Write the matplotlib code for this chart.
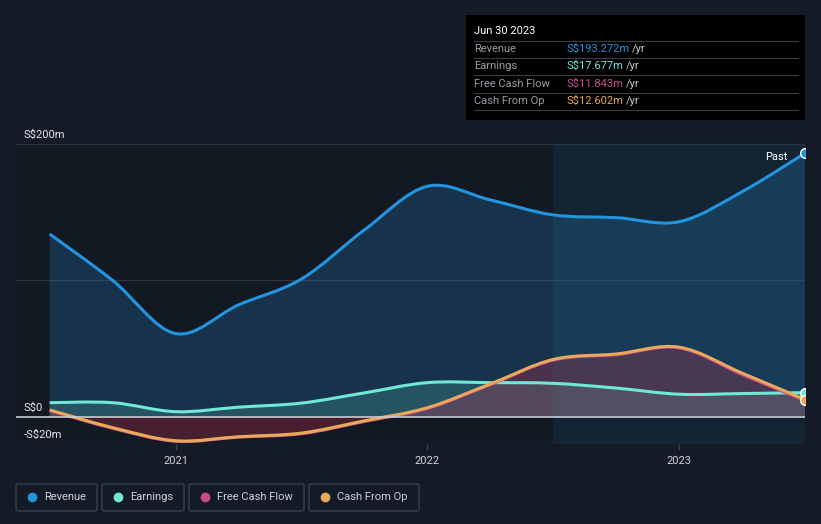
import numpy as np
import matplotlib
matplotlib.use("Agg")
import matplotlib.pyplot as plt
from matplotlib.path import Path
from matplotlib.patches import PathPatch, FancyBboxPatch, Rectangle

plt.rcParams['font.family'] = ['Roboto', 'DejaVu Sans']

# quarterly points, decimal years (Jun 2020 .. Jun 2023), S$m
years = [2020.5, 2020.75, 2021.0, 2021.25, 2021.5, 2021.75, 2022.0,
         2022.25, 2022.5, 2022.75, 2023.0, 2023.25, 2023.5]
revenue = [134, 100, 61, 82, 101, 137, 169, 159, 148, 146, 143, 165, 193.272]
earnings = [10.3, 10.3, 3.7, 7, 10, 17.5, 25, 25, 24.5, 21, 16.5, 17, 17.677]
cash_from_op = [5, -8, -17.6, -14.7, -12, -3, 6.6, 24, 42, 46, 51, 32, 12.602]
free_cash_flow = [4.5, -8.5, -18, -15, -12.5, -3.5, 6, 23.5, 41.5, 45.5, 50.5, 31, 11.843]

y_ticks = [-20, 0, 200]
y_tick_labels = ['-S$20m', 'S$0', 'S$200m']
x_ticks = [2021, 2022, 2023]
past_start = 2022.5

BG = '#151b26'
C_REV = '#2394df'
C_EARN = '#6fe8d6'
C_FCF = '#c94b8c'
C_CFO = '#e8a95a'


def smooth_path(xs, ys, base=None):
    """Catmull-Rom through the points as cubic bezier; optionally closed to a baseline."""
    pts = list(zip(xs, ys))
    n = len(pts)
    verts = [pts[0]]
    codes = [Path.MOVETO]
    for i in range(n - 1):
        p0 = pts[max(i - 1, 0)]
        p1 = pts[i]
        p2 = pts[i + 1]
        p3 = pts[min(i + 2, n - 1)]
        c1 = (p1[0] + (p2[0] - p0[0]) / 6, p1[1] + (p2[1] - p0[1]) / 6)
        c2 = (p2[0] - (p3[0] - p1[0]) / 6, p2[1] - (p3[1] - p1[1]) / 6)
        verts += [c1, c2, p2]
        codes += [Path.CURVE4] * 3
    if base is not None:
        verts += [(xs[-1], base), (xs[0], base), pts[0]]
        codes += [Path.LINETO, Path.LINETO, Path.CLOSEPOLY]
    return Path(verts, codes)


fig = plt.figure(figsize=(8.21, 5.24), dpi=100, facecolor=BG)
W, H = 821, 524
ax = fig.add_axes([16 / W, 1 - 444 / H, (805 - 16) / W, 300 / H])
ax.set_facecolor('#131922')
ax.set_xlim(2020.0 - 0.0, 2023.5)
x0 = 2021 - (176 - 16) / 252.5
ax.set_xlim(x0, 2023.5)
ax.set_ylim(-20, 200)

# past region
ax.axvspan(past_start, 2023.5, color='#14283a', alpha=0.75, lw=0, zorder=0)

for v in [-20, 100, 200]:
    ax.axhline(v, color='#2e3540', lw=1, zorder=1)
ax.axhline(0, color='#c8ccd2', lw=1.2, zorder=6)

# fills
ax.add_patch(PathPatch(smooth_path(years, revenue, 0), fc=C_REV, alpha=0.22, lw=0, zorder=2))
ax.add_patch(PathPatch(smooth_path(years, earnings, 0), fc=C_EARN, alpha=0.18, lw=0, zorder=3))
ax.add_patch(PathPatch(smooth_path(years, cash_from_op, 0), fc='#c0304a', alpha=0.3, lw=0, zorder=3))

# lines
ax.add_patch(PathPatch(smooth_path(years, revenue), fc='none', ec=C_REV, lw=2.2, zorder=5))
ax.add_patch(PathPatch(smooth_path(years, earnings), fc='none', ec=C_EARN, lw=2.2, zorder=5))
ax.add_patch(PathPatch(smooth_path(years, free_cash_flow), fc='none', ec=C_FCF, lw=2.2, zorder=5))
ax.add_patch(PathPatch(smooth_path(years, cash_from_op), fc='none', ec=C_CFO, lw=2.2, zorder=5))

for vals, c in [(revenue, C_REV), (earnings, C_EARN), (cash_from_op, C_CFO)]:
    ax.plot(years[-1], vals[-1], 'o', ms=7, mfc=c, mec='white', mew=1, zorder=7)

ax.text(2023.5 - 0.07, revenue[-1] - 3, 'Past', color='white', fontsize=8,
        ha='right', va='center', zorder=8)

for s in ax.spines.values():
    s.set_visible(False)
ax.set_yticks([])
ax.set_xticks(x_ticks)
ax.set_xticklabels([str(x) for x in x_ticks])
ax.tick_params(axis='x', colors='#3a414c', labelcolor='#d0d3d8', labelsize=8,
               length=4, width=1, pad=5)

for v, lab in zip(y_ticks, y_tick_labels):
    ax.text(x0 + 8 / 252.5, v + 3, lab, color='#e6e8eb', fontsize=8,
            ha='left', va='bottom', zorder=8)

# tooltip
fig.patches.append(Rectangle((466 / W, 1 - 120 / H), 339 / W, 105 / H,
                             transform=fig.transFigure, fc='black', ec='none'))
fig.text(474 / W, 1 - 31 / H, 'Jun 30 2023', color='white', fontsize=8, va='center')
for yy in [41, 58, 75, 93, 110]:
    fig.add_artist(plt.Line2D([474 / W, 798 / W], [1 - yy / H] * 2,
                              color='#3a3d42', lw=0.8, transform=fig.transFigure))
rows = [('Revenue', 'S$193.272m', C_REV), ('Earnings', 'S$17.677m', C_EARN),
        ('Free Cash Flow', 'S$11.843m', C_FCF), ('Cash From Op', 'S$12.602m', C_CFO)]
renderer = fig.canvas.get_renderer()
for (lab, val, c), yy in zip(rows, [49, 66, 84, 101]):
    fig.text(474 / W, 1 - yy / H, lab, color='#9a9ea5', fontsize=8, va='center')
    t = fig.text(566 / W, 1 - yy / H, val, color=c, fontsize=8, va='center')
    bb = t.get_window_extent(renderer)
    fig.text((bb.x1 + 3) / W, 1 - yy / H, '/yr', color='#c8ccd2', fontsize=8, va='center')

# legend boxes
legend = [('Revenue', C_REV, 16, 97), ('Earnings', C_EARN, 102, 184),
          ('Free Cash Flow', C_FCF, 189, 304), ('Cash From Op', C_CFO, 309, 419)]
for lab, c, xa, xb in legend:
    fig.patches.append(FancyBboxPatch((xa / W, 1 - 511 / H), (xb - xa) / W, 27 / H,
                                      boxstyle='round,pad=0,rounding_size=0.003',
                                      transform=fig.transFigure, fc='none',
                                      ec='#3b414b', lw=1))
    fig.add_artist(plt.Line2D([(xa + 16) / W], [1 - 497 / H], marker='o', ms=6,
                              color=c, transform=fig.transFigure))
    fig.text((xa + 28) / W, 1 - 497 / H, lab, color='#cfd2d7', fontsize=8, va='center')

fig.savefig('out.png', dpi=100, facecolor=BG)
